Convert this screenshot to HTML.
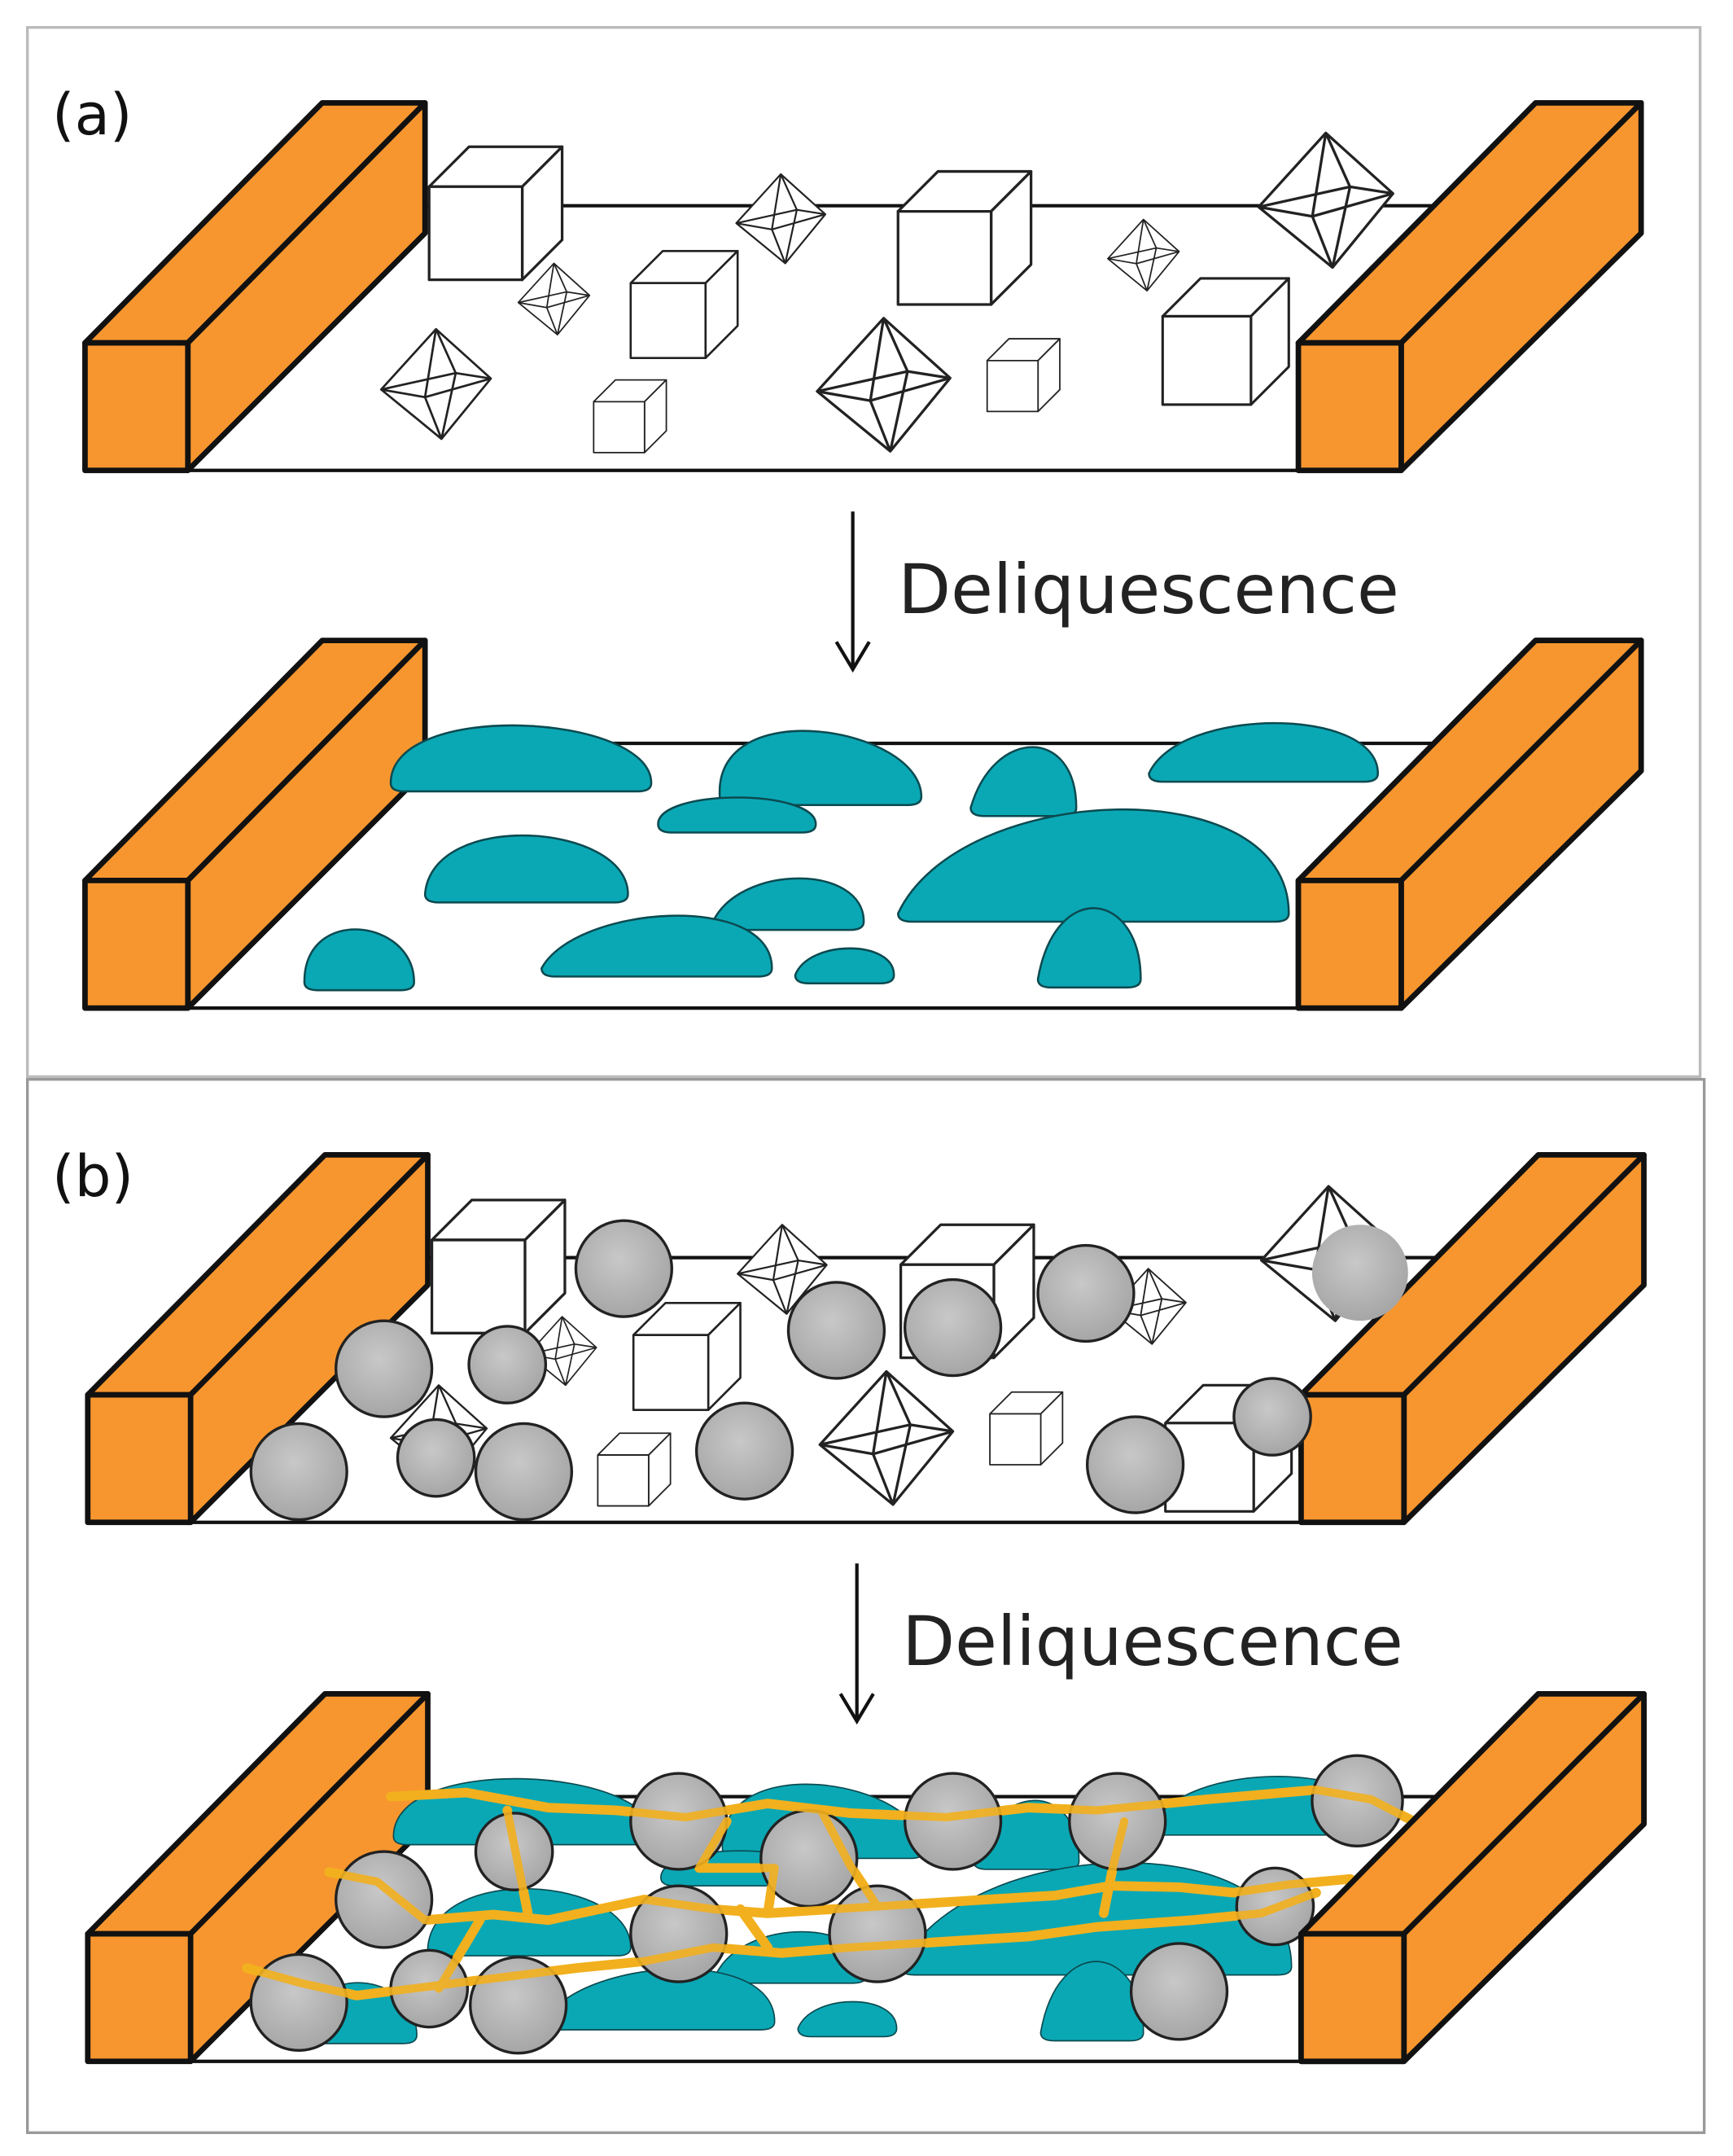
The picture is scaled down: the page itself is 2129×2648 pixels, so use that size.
<!DOCTYPE html>
<html><head><meta charset="utf-8"><style>
html,body{margin:0;padding:0;background:#fff;}
svg{display:block;}
text{font-family:"DejaVu Sans","Liberation Sans",sans-serif;}
</style></head><body>
<svg width="2129" height="2648" viewBox="0 0 1264 1572" preserveAspectRatio="none" xmlns="http://www.w3.org/2000/svg">
<defs>
<g id="cube" fill="#fff" stroke="#222" stroke-width="0.02" stroke-linejoin="round">
<path d="M0,0.3 L0.3,0 L1,0 L0.7,0.3 Z"/><path d="M0.7,0.3 L1,0 L1,0.7 L0.7,1 Z"/><rect x="0" y="0.3" width="0.7" height="0.7"/>
</g>
<g id="octa" fill="#fff" stroke="#222" stroke-width="0.02" stroke-linejoin="round">
<path d="M0.5,0 L1,0.45 L0.55,1 L0,0.55 Z"/><path d="M0.5,0 L0.4,0.62 L0.55,1 M0,0.55 L0.4,0.62 L1,0.45 M0.5,0 L0.68,0.4 L0.55,1 M0,0.55 L0.68,0.4 L1,0.45" fill="none"/>
</g>
<g id="tray">
<path d="M62,343 L1022,343 M310,150 L1045,150" stroke="#111" stroke-width="2.5" fill="none"/>
<g fill="#f7962f" stroke="#111" stroke-width="4" stroke-linejoin="round">
<path d="M62,250 L235,75 L310,75 L137,250 Z"/><path d="M137,250 L310,75 L310,170 L137,343 Z"/><rect x="62" y="250" width="75" height="93"/>
<path d="M947,250 L1120,75 L1197,75 L1022,250 Z"/><path d="M1022,250 L1197,75 L1197,170 L1022,343 Z"/><rect x="947" y="250" width="75" height="93"/>
</g>
</g>
<g id="drops">
<path d="M285,571 C285,510 475,520 475,571 Q475,577 465,577 L295,577 Q285,577 285,571 Z"/>
<path d="M525,581 C520,505 672,530 672,581 Q672,587 662,587 L535,587 Q525,587 525,581 Z"/>
<path d="M480,601 C480,575 595,575 595,601 Q595,607 585,607 L490,607 Q480,607 480,601 Z"/>
<path d="M708,589 C725,530 785,530 785,589 Q785,595 775,595 L718,595 Q708,595 708,589 Z"/>
<path d="M838,564 C860,515 1005,515 1005,564 Q1005,570 995,570 L848,570 Q838,570 838,564 Z"/>
<path d="M310,652 C315,590 458,600 458,652 Q458,658 448,658 L320,658 Q310,658 310,652 Z"/>
<path d="M655,666 C700,570 940,560 940,666 Q940,672 930,672 L665,672 Q655,672 655,666 Z"/>
<path d="M520,672 C540,630 630,630 630,672 Q630,678 620,678 L530,678 Q520,678 520,672 Z"/>
<path d="M222,716 C222,660 302,670 302,716 Q302,722 292,722 L232,722 Q222,722 222,716 Z"/>
<path d="M395,706 C420,660 563,650 563,706 Q563,712 553,712 L405,712 Q395,712 395,706 Z"/>
<path d="M580,711 C590,685 652,685 652,711 Q652,717 642,717 L590,717 Q580,717 580,711 Z"/>
<path d="M757,714 C770,640 832,650 832,714 Q832,720 822,720 L767,720 Q757,720 757,714 Z"/>
</g>
<radialGradient id="gr" cx="0.45" cy="0.4" r="0.6"><stop offset="0" stop-color="#c8c8c8"/><stop offset="1" stop-color="#a6a6a6"/></radialGradient>
</defs>
<rect x="20" y="20" width="1220" height="765" fill="none" stroke="#bbb" stroke-width="2"/>
<rect x="20" y="787" width="1223" height="768" fill="none" stroke="#999" stroke-width="2"/>
<text x="38" y="98" font-size="42" fill="#111">(a)</text>
<text x="38" y="872" font-size="42" fill="#111">(b)</text>

<use href="#tray"/>
<g>
<use href="#cube" transform="translate(313,107) scale(97)"/>
<use href="#cube" transform="translate(460,183) scale(78)"/>
<use href="#cube" transform="translate(655,125) scale(97)"/>
<use href="#cube" transform="translate(848,203) scale(92)"/>
<use href="#cube" transform="translate(720,247) scale(53)"/>
<use href="#cube" transform="translate(433,277) scale(53)"/>
<use href="#octa" transform="translate(537,127) scale(65)"/>
<use href="#octa" transform="translate(378,192) scale(52)"/>
<use href="#octa" transform="translate(278,240) scale(80)"/>
<use href="#octa" transform="translate(596,232) scale(97)"/>
<use href="#octa" transform="translate(808,160) scale(52)"/>
<use href="#octa" transform="translate(918,97) scale(98)"/>
</g>
<path d="M622,373 L622,488 M610,468 L622,488 L634,468" stroke="#111" stroke-width="2.5" fill="none"/>
<text x="655" y="447" font-size="50" fill="#222">Deliquescence</text>

<g transform="translate(0,392)"><use href="#tray"/></g>
<g fill="#0aa8b5" stroke="#0b4a50" stroke-width="1.5"><use href="#drops"/></g>
<g fill="#f7962f" stroke="#111" stroke-width="4" stroke-linejoin="round">
<path d="M947,642 L1120,467 L1197,467 L1022,642 Z"/><path d="M1022,642 L1197,467 L1197,562 L1022,735 Z"/><rect x="947" y="642" width="75" height="93"/>
</g>

<g transform="translate(2,767)"><use href="#tray"/></g>
<g>
<use href="#cube" transform="translate(315,875) scale(97)"/>
<use href="#cube" transform="translate(462,950) scale(78)"/>
<use href="#cube" transform="translate(657,893) scale(97)"/>
<use href="#cube" transform="translate(850,1010) scale(92)"/>
<use href="#cube" transform="translate(722,1015) scale(53)"/>
<use href="#cube" transform="translate(436,1045) scale(53)"/>
<use href="#octa" transform="translate(538,893) scale(65)"/>
<use href="#octa" transform="translate(385,960) scale(50)"/>
<use href="#octa" transform="translate(598,1000) scale(97)"/>
<use href="#octa" transform="translate(810,925) scale(55)"/>
<use href="#octa" transform="translate(920,865) scale(98)"/>
<use href="#octa" transform="translate(285,1010) scale(70)"/>
</g>
<g fill="url(#gr)" stroke="#222" stroke-width="2">
<circle cx="455" cy="925" r="35"/><circle cx="610" cy="970" r="35"/><circle cx="695" cy="968" r="35"/>
<circle cx="792" cy="943" r="35"/><circle cx="992" cy="928" r="35" stroke="none"/><circle cx="280" cy="998" r="35"/>
<circle cx="370" cy="995" r="28"/><circle cx="218" cy="1073" r="35"/><circle cx="318" cy="1063" r="28"/>
<circle cx="382" cy="1073" r="35"/><circle cx="543" cy="1058" r="35"/><circle cx="828" cy="1068" r="35"/>
<circle cx="928" cy="1033" r="28"/>
</g>
<path d="M625,1140 L625,1255 M613,1235 L625,1255 L637,1235" stroke="#111" stroke-width="2.5" fill="none"/>
<text x="658" y="1214" font-size="50" fill="#222">Deliquescence</text>

<g transform="translate(2,1160)"><use href="#tray"/></g>
<g fill="#0aa8b5" stroke="#0b4a50" stroke-width="1" transform="translate(2,768)"><use href="#drops"/></g>
<g fill="none" stroke="#f2b01e" stroke-width="7" stroke-linejoin="round" stroke-linecap="round">
<path d="M285,1310 L340,1307 L400,1318 L450,1320 L500,1325 L560,1315 L620,1322 L690,1325 L750,1318 L800,1320 L880,1312 L960,1305 L1000,1312 L1035,1330"/>
<path d="M240,1365 L275,1372 L310,1400 L360,1396 L400,1400 L470,1385 L520,1392 L560,1395 L640,1390 L720,1385 L770,1382 L810,1375 L860,1376 L900,1380 L940,1374 L985,1370"/>
<path d="M180,1435 L220,1446 L260,1455 L300,1450 L340,1445 L420,1435 L470,1430 L520,1420 L570,1424 L620,1420 L700,1415 L750,1412 L800,1405 L870,1400 L920,1395 L960,1380"/>
<path d="M370,1320 L378,1360 L385,1395"/><path d="M350,1400 L335,1425 L320,1450"/>
<path d="M530,1328 L510,1362 L565,1362 L560,1395"/><path d="M600,1322 L620,1360 L640,1390"/>
<path d="M820,1328 L812,1360 L805,1395"/><path d="M540,1392 L560,1420"/>
</g>
<g fill="url(#gr)" stroke="#222" stroke-width="2">
<circle cx="990" cy="1313" r="33"/><circle cx="495" cy="1328" r="35"/><circle cx="695" cy="1328" r="35"/>
<circle cx="815" cy="1328" r="35"/><circle cx="375" cy="1350" r="28"/><circle cx="590" cy="1355" r="35"/>
<circle cx="280" cy="1385" r="35"/><circle cx="495" cy="1410" r="35"/><circle cx="640" cy="1410" r="35"/>
<circle cx="930" cy="1390" r="28"/><circle cx="218" cy="1460" r="35"/><circle cx="313" cy="1450" r="28"/>
<circle cx="378" cy="1462" r="35"/><circle cx="860" cy="1452" r="35"/>
</g>
<g fill="none" stroke="#f2b01e" stroke-width="6" stroke-linejoin="round" stroke-linecap="round" opacity="0.9">
<path d="M285,1310 L340,1307 L400,1318 L450,1320 L500,1325 L560,1315 L620,1322 L690,1325 L750,1318 L800,1320 L880,1312 L960,1305 L1000,1312 L1035,1330"/>
<path d="M240,1365 L275,1372 L310,1400 L360,1396 L400,1400 L470,1385 L520,1392 L560,1395 L640,1390 L720,1385 L770,1382 L810,1375 L860,1376 L900,1380 L940,1374 L985,1370"/>
<path d="M180,1435 L220,1446 L260,1455 L300,1450 L340,1445 L420,1435 L470,1430 L520,1420 L570,1424 L620,1420 L700,1415 L750,1412 L800,1405 L870,1400 L920,1395 L960,1380"/>
<path d="M370,1320 L378,1360 L385,1395"/><path d="M350,1400 L335,1425 L320,1450"/>
<path d="M530,1328 L510,1362 L565,1362 L560,1395"/><path d="M600,1322 L620,1360 L640,1390"/>
<path d="M820,1328 L812,1360 L805,1395"/>
</g>
<g fill="#f7962f" stroke="#111" stroke-width="4" stroke-linejoin="round">
<path d="M949,1410 L1122,1235 L1199,1235 L1024,1410 Z"/><path d="M1024,1410 L1199,1235 L1199,1330 L1024,1503 Z"/><rect x="949" y="1410" width="75" height="93"/>
</g>
</svg>
</body></html>
